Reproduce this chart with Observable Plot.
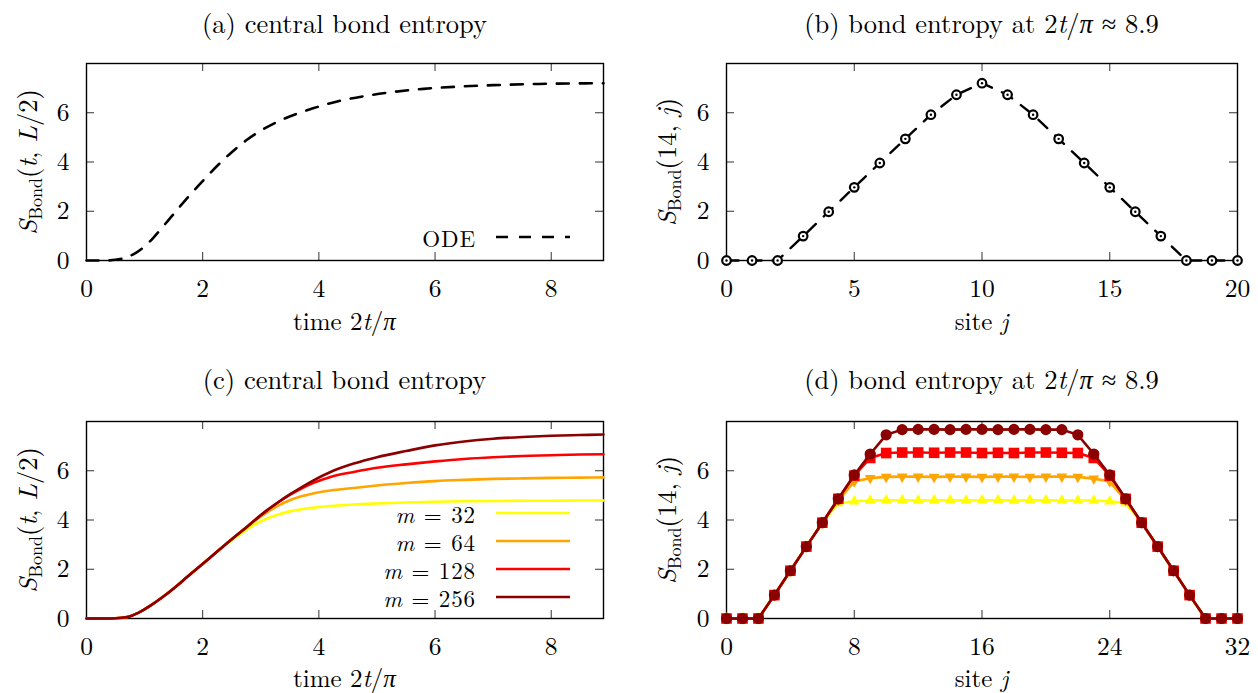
<!DOCTYPE html>
<html>
<head>
<meta charset="utf-8">
<script src="https://cdn.jsdelivr.net/npm/d3@7"></script>
<script src="https://cdn.jsdelivr.net/npm/@observablehq/plot@0.6"></script>
<style>
  body { margin: 0; background: #fff; }
  #root { position: relative; width: 1258px; height: 693px; overflow: hidden; background: #fff;
          font-family: "Latin Modern Roman", "CMU Serif", "Liberation Serif", serif; color: #000; }
  .panel { position: absolute; }
  .t { position: absolute; font-size: 26.5px; white-space: nowrap; transform: translate(-50%, -50%); line-height: 1; }
  .xl { position: absolute; font-size: 25px; white-space: nowrap; transform: translate(-50%, -50%); line-height: 1; }
  .yl { position: absolute; font-size: 26.5px; white-space: nowrap; transform: translate(-50%, -50%) rotate(-90deg); line-height: 1; }
  .leg { position: absolute; font-size: 23px; letter-spacing: 0.9px; white-space: nowrap; transform: translate(-100%, -50%); line-height: 1; }
  sub { font-size: 68%; vertical-align: -0.3em; line-height: 0; }
  #overlay { position: absolute; left: 0; top: 0; pointer-events: none; }
</style>
</head>
<body>
<div id="root"></div>
<script>
// ---------- data ----------
// (a) ODE central bond entropy vs time 2t/pi
const timeA = [0, 0.3, 0.5, 0.7, 0.85, 1.0, 1.15, 1.3, 1.45, 1.6, 1.75, 1.9, 2.1, 2.3, 2.5, 2.75, 3.0, 3.3, 3.6, 3.9, 4.3, 4.8, 5.3, 5.8, 6.4, 7.0, 7.8, 8.9];
const odeA  = [0, 0, 0.03, 0.14, 0.31, 0.57, 0.92, 1.33, 1.75, 2.17, 2.58, 2.97, 3.48, 3.96, 4.4, 4.88, 5.27, 5.65, 5.94, 6.18, 6.45, 6.68, 6.85, 6.97, 7.06, 7.12, 7.17, 7.2];

// (b) bond entropy vs site j
const siteB = [0, 1, 2, 3, 4, 5, 6, 7, 8, 9, 10, 11, 12, 13, 14, 15, 16, 17, 18, 19, 20];
const entB  = [0, 0, 0, 0.99, 1.98, 2.97, 3.96, 4.94, 5.92, 6.73, 7.2, 6.73, 5.92, 4.94, 3.96, 2.97, 1.98, 0.99, 0, 0, 0];

// (c) central bond entropy for bond dimensions m
const timeC = [0, 0.3, 0.5, 0.7, 0.9, 1.1, 1.3, 1.5, 1.7, 1.9, 2.1, 2.3, 2.5, 2.7, 2.9, 3.1, 3.3, 3.5, 3.7, 3.9, 4.2, 4.6, 5.0, 5.5, 6.0, 6.5, 7.0, 7.5, 8.0, 8.5, 8.9];
const m32C  = [0, 0, 0.01, 0.06, 0.24, 0.52, 0.85, 1.22, 1.62, 2.02, 2.42, 2.82, 3.18, 3.52, 3.82, 4.05, 4.22, 4.35, 4.44, 4.5, 4.57, 4.63, 4.67, 4.71, 4.74, 4.76, 4.77, 4.78, 4.78, 4.79, 4.79];
const m64C  = [0, 0, 0.01, 0.06, 0.24, 0.52, 0.85, 1.22, 1.62, 2.02, 2.42, 2.82, 3.22, 3.6, 3.97, 4.3, 4.58, 4.8, 4.96, 5.08, 5.2, 5.3, 5.4, 5.5, 5.58, 5.63, 5.67, 5.69, 5.71, 5.72, 5.73];
const m128C = [0, 0, 0.01, 0.06, 0.24, 0.52, 0.85, 1.22, 1.62, 2.02, 2.42, 2.82, 3.22, 3.6, 4.0, 4.38, 4.72, 5.02, 5.28, 5.5, 5.75, 5.95, 6.12, 6.26, 6.38, 6.48, 6.55, 6.6, 6.63, 6.66, 6.67];
const m256C = [0, 0, 0.01, 0.06, 0.24, 0.52, 0.85, 1.22, 1.62, 2.02, 2.42, 2.82, 3.22, 3.6, 4.0, 4.38, 4.72, 5.04, 5.33, 5.6, 5.95, 6.29, 6.55, 6.8, 7.03, 7.19, 7.3, 7.37, 7.42, 7.45, 7.47];

// (d) bond entropy vs site j for bond dimensions m
const siteD = [0, 1, 2, 3, 4, 5, 6, 7, 8, 9, 10, 11, 12, 13, 14, 15, 16, 17, 18, 19, 20, 21, 22, 23, 24, 25, 26, 27, 28, 29, 30, 31, 32];
const m32D  = [0, 0, 0, 0.95, 1.94, 2.92, 3.89, 4.68, 4.76, 4.79, 4.8, 4.8, 4.79, 4.8, 4.8, 4.79, 4.8, 4.8, 4.79, 4.8, 4.8, 4.79, 4.79, 4.79, 4.76, 4.68, 3.89, 2.92, 1.94, 0.95, 0, 0, 0];
const m64D  = [0, 0, 0, 0.95, 1.94, 2.92, 3.89, 4.8, 5.56, 5.7, 5.75, 5.76, 5.76, 5.75, 5.76, 5.76, 5.75, 5.76, 5.76, 5.75, 5.76, 5.76, 5.75, 5.68, 5.56, 4.8, 3.89, 2.92, 1.94, 0.95, 0, 0, 0];
const m128D = [0, 0, 0, 0.95, 1.94, 2.92, 3.89, 4.86, 5.8, 6.52, 6.72, 6.74, 6.74, 6.73, 6.74, 6.74, 6.72, 6.73, 6.72, 6.74, 6.74, 6.73, 6.72, 6.52, 5.8, 4.86, 3.89, 2.92, 1.94, 0.95, 0, 0, 0];
const m256D = [0, 0, 0, 0.95, 1.94, 2.92, 3.89, 4.86, 5.83, 6.68, 7.46, 7.67, 7.68, 7.68, 7.67, 7.68, 7.68, 7.67, 7.68, 7.68, 7.67, 7.67, 7.46, 6.68, 5.83, 4.86, 3.89, 2.92, 1.94, 0.95, 0, 0, 0];

// legend / tick labels
const mLabels = ["32", "64", "128", "256"];
const mColors = ["#ffff00", "#ffa500", "#ff0000", "#8b0000"];
const timeTicks = [0, 2, 4, 6, 8];
const siteTicksB = [0, 5, 10, 15, 20];
const siteTicksD = [0, 8, 16, 24, 32];
const yTicks = [0, 2, 4, 6];

// ---------- helpers ----------
const FONT = '"Latin Modern Roman","CMU Serif","Liberation Serif",serif';
const root = document.getElementById("root");

const triangleDown = {
  draw(context, size) {
    const s3 = Math.sqrt(3);
    const y = -Math.sqrt(size / (s3 * 3));
    context.moveTo(0, -y * 2);
    context.lineTo(-s3 * y, y);
    context.lineTo(s3 * y, y);
    context.closePath();
  }
};

function panel({left, top, width, height, ml, mr, mt, mb, xDomain, xTicks, marks}) {
  const innerW = width - ml - mr, innerH = height - mt - mb;
  const tickStyle = {stroke: "#333", strokeWidth: 1};
  const svg = Plot.plot({
    width, height,
    marginLeft: ml, marginRight: mr, marginTop: mt, marginBottom: mb,
    x: {domain: xDomain, ticks: xTicks, tickSize: 0, tickPadding: 18, label: null},
    y: {domain: [0, 8], ticks: yTicks, tickSize: 0, tickPadding: 17, label: null},
    style: {fontFamily: FONT, fontSize: "25.5px", color: "#000", background: "transparent", overflow: "visible"},
    marks: [
      Plot.tickX(xTicks, {x: d => d, insetTop: innerH - 8, ...tickStyle}),
      Plot.tickX(xTicks, {x: d => d, insetBottom: innerH - 8, ...tickStyle}),
      Plot.tickY(yTicks, {y: d => d, insetRight: innerW - 8, ...tickStyle}),
      Plot.tickY(yTicks, {y: d => d, insetLeft: innerW - 8, ...tickStyle}),
      Plot.frame({stroke: "#000", strokeWidth: 1.4}),
      ...marks
    ]
  });
  const div = document.createElement("div");
  div.className = "panel";
  div.style.left = left + "px";
  div.style.top = top + "px";
  div.appendChild(svg);
  root.appendChild(div);
}

function text(cls, x, y, html) {
  const d = document.createElement("div");
  d.className = cls;
  d.style.left = x + "px";
  d.style.top = y + "px";
  d.innerHTML = html;
  root.appendChild(d);
}

// ---------- tables ----------
const dataA = timeA.map((t, i) => ({t, s: odeA[i]}));
const dataB = siteB.map((j, i) => ({j, s: entB[i]}));
const seriesC = [m32C, m64C, m128C, m256C].map(arr => timeC.map((t, i) => ({t, s: arr[i]})));
const seriesD = [m32D, m64D, m128D, m256D].map(arr => siteD.map((j, i) => ({j, s: arr[i]})));
const symbolsD = ["triangle", triangleDown, "square", "circle"];
const radiusD = [4.0, 4.0, 6.0, 5.6];

const DASH = "12,11";

// ---------- panels ----------
const W = 629;
// (a)
panel({left: 0, top: 40, width: W, height: 280, ml: 86, mr: 26, mt: 23, mb: 60,
  xDomain: [0, 8.9], xTicks: timeTicks,
  marks: [Plot.line(dataA, {x: "t", y: "s", stroke: "#000", strokeWidth: 2.6, strokeDasharray: DASH, curve: "monotone-x"})]
});
// (b)
panel({left: W, top: 40, width: W, height: 280, ml: 97, mr: 21, mt: 23, mb: 60,
  xDomain: [0, 20], xTicks: siteTicksB,
  marks: [
    Plot.line(dataB, {x: "j", y: "s", stroke: "#000", strokeWidth: 2.4, strokeDasharray: DASH}),
    Plot.dot(dataB, {x: "j", y: "s", r: 4.3, fill: "#fff", stroke: "#000", strokeWidth: 2.2}),
    Plot.dot(dataB, {x: "j", y: "s", r: 1.2, fill: "#000"})
  ]
});
// (c)
panel({left: 0, top: 398, width: W, height: 295, ml: 86, mr: 26, mt: 23, mb: 75,
  xDomain: [0, 8.9], xTicks: timeTicks,
  marks: seriesC.map((data, k) => Plot.line(data, {x: "t", y: "s", stroke: mColors[k], strokeWidth: 2.6, curve: "monotone-x"}))
});
// (d)
panel({left: W, top: 398, width: W, height: 295, ml: 97, mr: 21, mt: 23, mb: 75,
  xDomain: [0, 32], xTicks: siteTicksD,
  marks: seriesD.flatMap((data, k) => [
    Plot.line(data, {x: "j", y: "s", stroke: mColors[k], strokeWidth: 2.6}),
    Plot.dot(data, {x: "j", y: "s", symbol: symbolsD[k], r: radiusD[k], fill: mColors[k], stroke: "none"})
  ])
});

// ---------- texts ----------
text("t", 344.5, 22, "(a) central bond entropy");
text("t", 981.5, 22, "(b) bond entropy at 2<i>t</i>/<i>π</i> ≈ 8.9");
text("t", 344.5, 378, "(c) central bond entropy");
text("t", 981.5, 378, "(d) bond entropy at 2<i>t</i>/<i>π</i> ≈ 8.9");

text("xl", 344.5, 319, "time 2<i>t</i>/<i>π</i>");
text("xl", 981.5, 319, "site <i>j</i>");
text("xl", 344.5, 676, "time 2<i>t</i>/<i>π</i>");
text("xl", 981.5, 676, "site <i>j</i>");

text("yl", 26, 161.5, "<i>S</i><sub>Bond</sub>(<i>t</i>, <i>L</i>/2)");
text("yl", 665, 161.5, "<i>S</i><sub>Bond</sub>(14, <i>j</i>)");
text("yl", 26, 520, "<i>S</i><sub>Bond</sub>(<i>t</i>, <i>L</i>/2)");
text("yl", 665, 520, "<i>S</i><sub>Bond</sub>(14, <i>j</i>)");

// legends
text("leg", 476, 237, "ODE");
const legY = [513, 541, 569, 597];
mLabels.forEach((m, k) => text("leg", 476, legY[k], "<i>m</i> = " + m));

const ns = "http://www.w3.org/2000/svg";
const ov = document.createElementNS(ns, "svg");
ov.setAttribute("id", "overlay");
ov.setAttribute("width", 1258);
ov.setAttribute("height", 693);
function seg(y, color, dash) {
  const l = document.createElementNS(ns, "line");
  l.setAttribute("x1", 496); l.setAttribute("x2", 570);
  l.setAttribute("y1", y); l.setAttribute("y2", y);
  l.setAttribute("stroke", color);
  l.setAttribute("stroke-width", 2.6);
  if (dash) l.setAttribute("stroke-dasharray", dash);
  ov.appendChild(l);
}
seg(237, "#000", DASH);
mColors.forEach((c, k) => seg(legY[k], c));
root.appendChild(ov);
</script>
</body>
</html>
